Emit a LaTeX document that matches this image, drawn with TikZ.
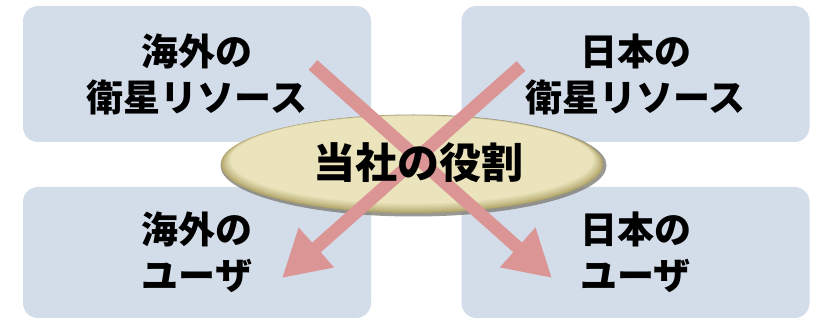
\documentclass[tikz,border=0pt]{standalone}
\usepackage{fontspec}
\newfontfamily\cjk{Noto Sans CJK JP}
\usetikzlibrary{shapes.geometric,arrows.meta}
\definecolor{boxfill}{RGB}{211,220,233}
\definecolor{arrowpink}{RGB}{219,149,149}
\definecolor{ecream}{RGB}{234,227,188}
\definecolor{erim}{RGB}{176,164,104}
\definecolor{eshadow}{RGB}{128,126,118}
\tikzset{
  box/.style={rectangle, rounded corners=15pt, fill=boxfill, inner sep=0pt,
    minimum width=348pt, align=center,
    font=\cjk\bfseries\fontsize{37}{46}\selectfont},
  roleell/.style={ellipse, fill=erim, inner sep=0pt,
    minimum width=382pt, minimum height=98pt},
  ellshadow/.style={ellipse, fill=eshadow, inner sep=0pt,
    minimum width=386pt, minimum height=102pt},
  bigarrow/.style={draw=arrowpink, line width=13pt,
    -{Triangle[width=50pt,length=46pt]}},
  roletext/.style={font=\cjk\bfseries\fontsize{42}{48}\selectfont, inner sep=0pt}
}
\begin{document}
\begin{tikzpicture}[x=1pt,y=-1pt]
\useasboundingbox (0,0) rectangle (814,320);
\node[box, minimum height=136pt] (tl) at (197,74) {海外の\\衛星リソース};
\node[box, minimum height=136pt] (tr) at (635.5,74) {日本の\\衛星リソース};
\node[box, minimum height=131pt] (bl) at (197,252.5) {海外の\\ユーザ};
\node[box, minimum height=131pt] (br) at (635.5,252.5) {日本の\\ユーザ};
\node[ellshadow, opacity=0.8] (sh) at (413.5,165.5) {};
\node[roleell] (ell) at (412,164) {};
\foreach \i in {1,...,12}{
  \pgfmathtruncatemacro\p{100*(\i/12)^0.8}
  \fill[ecream!\p!erim, shift={(ell.center)}]
    (0,-0.35*\i) ellipse [x radius=191-0.8*\i, y radius=49-0.45*\i];
}
\coordinate (a1s) at (313,65);
\coordinate (a1e) at (552,278);
\coordinate (a2s) at (521,66);
\coordinate (a2e) at (282,278);
\draw[bigarrow] (a1s) -- (a1e);
\draw[bigarrow] (a2s) -- (a2e);
\node[roletext] (role) at (418,163) {当社の役割};
\end{tikzpicture}
\end{document}
